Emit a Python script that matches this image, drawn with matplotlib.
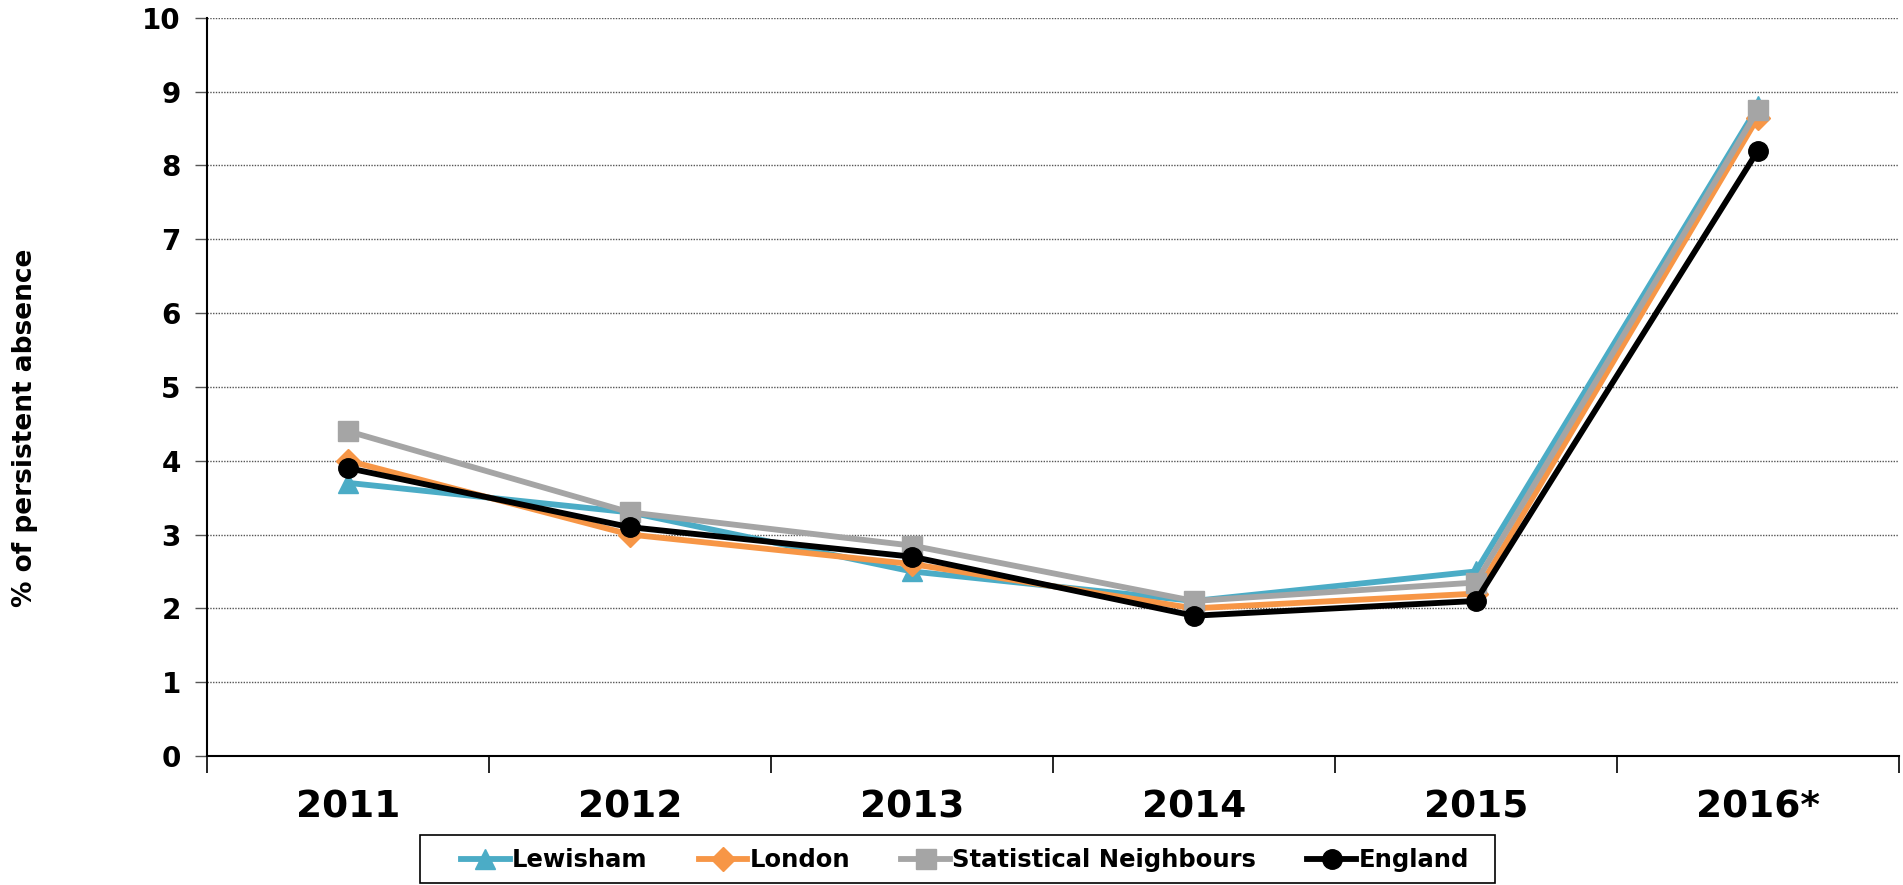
import matplotlib
matplotlib.use("Agg")
import matplotlib.pyplot as plt
from matplotlib.patches import Rectangle

years = ["2011", "2012", "2013", "2014", "2015", "2016*"]
lewisham = [3.7, 3.3, 2.5, 2.1, 2.5, 8.8]
london = [4.0, 3.0, 2.6, 2.0, 2.2, 8.65]
stat_neighbours = [4.4, 3.3, 2.85, 2.1, 2.35, 8.75]
england = [3.9, 3.1, 2.7, 1.9, 2.1, 8.2]

series = [
    ("Lewisham", lewisham, "#4BACC6", "^", 15),
    ("London", london, "#F79646", "D", 12),
    ("Statistical Neighbours", stat_neighbours, "#A5A5A5", "s", 14),
    ("England", england, "#000000", "o", 14),
]

fig = plt.figure(figsize=(19.03, 8.85), dpi=100)
ax = fig.add_axes([0.1088, 0.1458, 0.889, 0.834])

x = list(range(len(years)))
for name, vals, color, marker, ms in series:
    ax.plot(x, vals, color=color, marker=marker, markersize=ms, linewidth=4.2,
            label=name, solid_joinstyle="miter")

ax.set_xlim(-0.5, len(years) - 0.5)
ax.set_ylim(0, 10)
ax.set_yticks(range(0, 11))
ax.yaxis.grid(True, color="#555555", linestyle=(0, (1, 1)), linewidth=1.0)
ax.set_axisbelow(True)

# category labels centred, ticks at the boundaries between categories
ax.set_xticks([i - 0.5 for i in range(len(years) + 1)], minor=False)
ax.set_xticklabels([])
ax.set_xticks(x, minor=True)
ax.set_xticklabels(years, minor=True, fontsize=27, fontweight="bold")
ax.tick_params(axis="x", which="minor", length=0, pad=24)
ax.tick_params(axis="x", which="major", length=12, width=1.2, direction="out")
ax.tick_params(axis="y", length=9, width=1.0, direction="out", color="#555555",
               labelsize=20, pad=10)
for lab in ax.get_yticklabels():
    lab.set_fontweight("bold")

for side in ("top", "right"):
    ax.spines[side].set_visible(False)
ax.spines["left"].set_linewidth(1.5)
ax.spines["bottom"].set_linewidth(1.5)

ax.set_ylabel("% of persistent absence", fontsize=19, fontweight="bold")
ax.yaxis.set_label_coords(-0.100, 0.444)

# legend entries without their own frame, boxed by a wider rectangle
leg = fig.legend(loc="center", bbox_to_anchor=(0.507, 0.028), ncol=4, frameon=False,
                 fontsize=17.5, handlelength=2.0, handletextpad=0.1,
                 columnspacing=2.1, borderpad=0.3)
for t in leg.get_texts():
    t.set_fontweight("bold")
fig.patches.append(Rectangle((0.2207, 0.002), 0.565, 0.0545, transform=fig.transFigure,
                             fill=False, edgecolor="black", linewidth=1.2))

fig.savefig("out.png", dpi=100)
